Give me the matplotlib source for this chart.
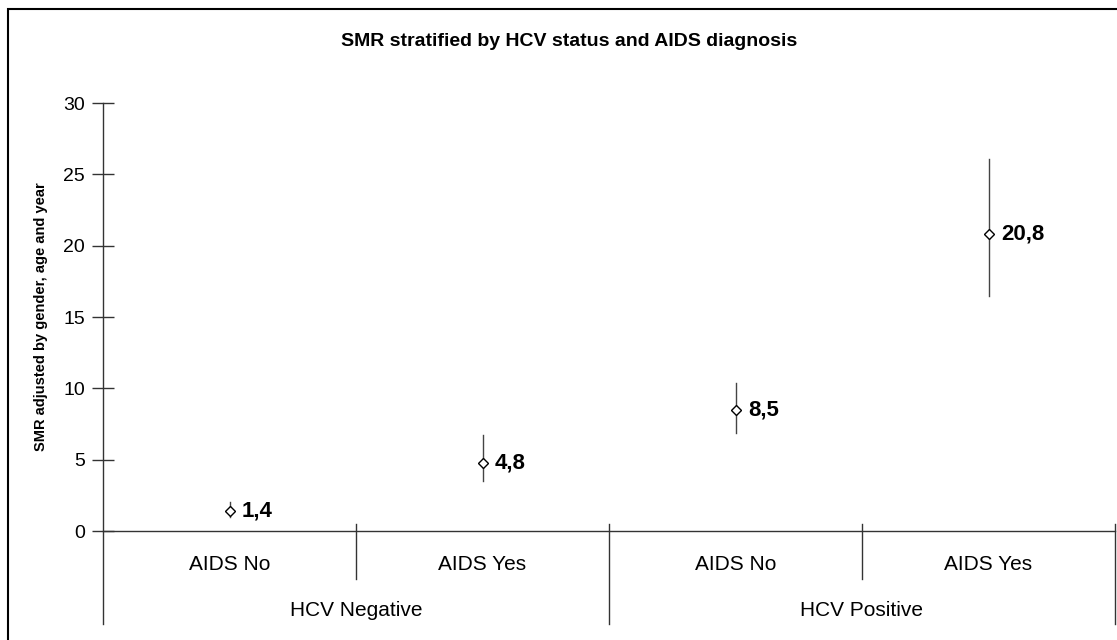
import matplotlib
matplotlib.use("Agg")
import matplotlib.pyplot as plt
from matplotlib.patches import Rectangle

plt.rcParams['font.family'] = ['Liberation Sans', 'DejaVu Sans']

# ── data ─────────────────────────────────────────────────────────
aids_labels = ["AIDS No", "AIDS Yes", "AIDS No", "AIDS Yes"]
hcv_labels = ["HCV Negative", "HCV Positive"]
smr = [1.4, 4.8, 8.5, 20.8]
ci_low = [1.0, 3.5, 6.9, 16.5]
ci_high = [2.0, 6.7, 10.4, 26.1]
smr_text = ["1,4", "4,8", "8,5", "20,8"]

W, H = 1117, 640
fig = plt.figure(figsize=(W / 100, H / 100), dpi=100)

x0, x1 = 103, 1115
y_zero, y_top = 531, 103
ax = fig.add_axes([x0 / W, 1 - y_zero / H, (x1 - x0) / W, (y_zero - y_top) / H])
ax.set_xlim(0, 4)
ax.set_ylim(0, 30)
for s in ax.spines.values():
    s.set_visible(False)

line_col = "#333333"
px = 30 / (y_zero - y_top)          # data units per pixel
y_short = -(579 - y_zero) * px
y_long = -(624 - y_zero) * px
y_up = (y_zero - 524) * px

# y axis and x axis lines
ax.plot([0, 0], [y_long, 30], color=line_col, lw=1, clip_on=False)
ax.plot([0, 4], [0, 0], color=line_col, lw=1, clip_on=False)
for xb, yb in [(1, y_short), (2, y_long), (3, y_short), (4, y_long)]:
    ax.plot([xb, xb], [yb, y_up], color=line_col, lw=1, clip_on=False)

ax.set_yticks(range(0, 31, 5))
ax.set_xticks([])
ax.tick_params(axis="y", direction="inout", length=16, width=1, color=line_col,
               labelsize=14, pad=5)

# points with CIs
xs = [0.5 + i for i in range(len(smr))]
for x, v, lo, hi, t in zip(xs, smr, ci_low, ci_high, smr_text):
    ax.plot([x, x], [lo, hi], color="#444444", lw=1, zorder=2)
    ax.plot(x, v, marker="D", ms=5, mfc="white", mec="black", mew=1, zorder=3)
    ax.annotate(t, (x, v), xytext=(9, 0), textcoords="offset points",
                ha="left", va="center", fontsize=16, fontweight="bold")

# category labels
for x, lab in zip(xs, aids_labels):
    ax.text(x, -(565 - y_zero) * px, lab, ha="center", va="center", fontsize=15)
for i, lab in enumerate(hcv_labels):
    ax.text(1 + 2 * i, -(611 - y_zero) * px, lab, ha="center", va="center", fontsize=15)

ax.set_ylabel("SMR adjusted by gender, age and year", fontsize=10.5,
              fontweight="bold")
ax.yaxis.set_label_coords(-(x0 - 48) / (x1 - x0), 0.5)

fig.text(569 / W, 1 - 41 / H, "SMR stratified by HCV status and AIDS diagnosis",
         ha="center", va="center", fontsize=14, fontweight="bold")

# outer frame
fig.patches.append(Rectangle((8 / W, -0.1), 1.2, 1 - 9 / H + 0.1,
                             transform=fig.transFigure, fill=False,
                             edgecolor="black", lw=1.5))

fig.savefig("out.png", dpi=100)
